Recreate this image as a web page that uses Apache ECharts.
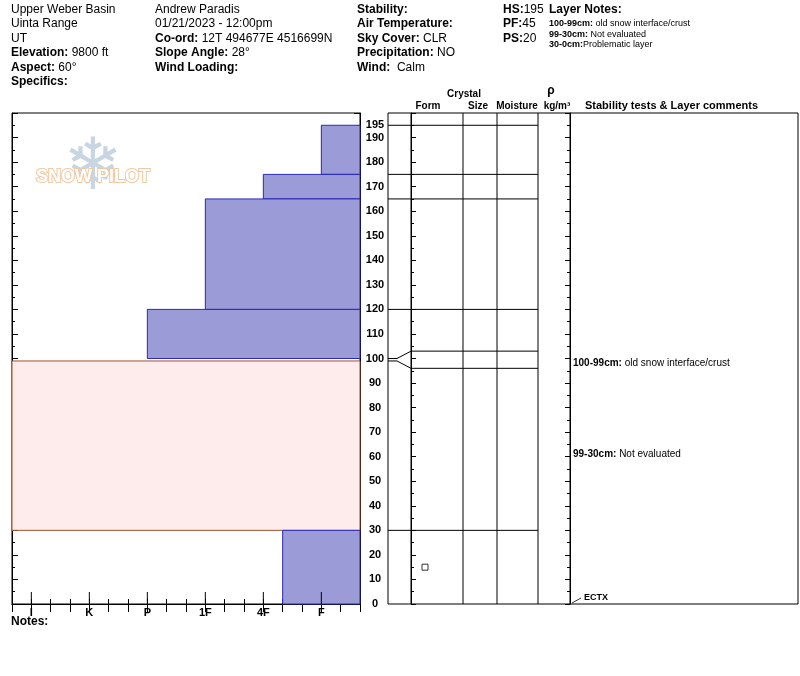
<!DOCTYPE html>
<html>
<head>
<meta charset="utf-8">
<script src="https://cdn.jsdelivr.net/npm/echarts@6/dist/echarts.min.js"></script>
<style>html,body{margin:0;padding:0;background:#fff}#chart{width:800px;height:676px}</style>
</head>
<body>
<div id="chart"></div>
<script>
// hardness scale: 1/3 steps, I=3 ... F=18
var hardnessLabels = {3: 'I', 6: 'K', 9: 'P', 12: '1F', 15: '4F', 18: 'F'};
// layers: [bottom, top, hardness]
var hardLayers = [[175, 195, 18], [165, 175, 15], [120, 165, 12], [100, 120, 9], [0, 30, 16]];
var noHardness = [30, 99];
var boundaries = [195, 175, 165, 120, 30];
var fanLayer = [99, 100];
var grainSymbols = [[425, 15]];
var comments = [
    {y: 98, head: '100-99cm:', text: ' old snow interface/crust'},
    {y: 61, head: '99-30cm:', text: ' Not evaluated'}
];
var tableCols = [411, 463, 497, 538, 570];
var FONT = 'Liberation Sans, Arial, sans-serif';

var chart = echarts.init(document.getElementById('chart'));

function txt(x, y, t, opt) {
    return Object.assign({type: 'text', x: x, y: y, style: Object.assign({
        text: t, font: '12px ' + FONT, fill: '#000', textVerticalAlign: 'middle'
    }, opt || {})});
}
function rich(x, y, head, val, size) {
    size = size || 12;
    return {type: 'text', x: x, y: y, style: {
        text: '{b|' + head + '}{n|' + val + '}', textVerticalAlign: 'middle',
        rich: {b: {fontWeight: 'bold', fontSize: size, fontFamily: FONT}, n: {fontSize: size, fontFamily: FONT}}
    }};
}

var header = [
    txt(11, 10, 'Upper Weber Basin'), txt(11, 24, 'Uinta Range'), txt(11, 39, 'UT'),
    rich(11, 53, 'Elevation:', ' 9800 ft'), rich(11, 68, 'Aspect:', ' 60°'), rich(11, 82, 'Specifics:', ''),
    txt(155, 10, 'Andrew Paradis'), txt(155, 24, '01/21/2023 - 12:00pm'),
    rich(155, 39, 'Co-ord:', ' 12T 494677E 4516699N'), rich(155, 53, 'Slope Angle:', ' 28°'),
    rich(155, 68, 'Wind Loading:', ''),
    rich(357, 10, 'Stability:', ''), rich(357, 24, 'Air Temperature:', ''), rich(357, 39, 'Sky Cover:', ' CLR'),
    rich(357, 53, 'Precipitation:', ' NO'), rich(357, 68, 'Wind:', '  Calm'),
    rich(503, 10, 'HS:', '195'), rich(503, 24, 'PF:', '45'), rich(503, 39, 'PS:', '20'),
    rich(549, 10, 'Layer Notes:', ''),
    rich(549, 24, '100-99cm:', ' old snow interface/crust', 9),
    rich(549, 35, '99-30cm:', ' Not evaluated', 9),
    rich(549, 45, '30-0cm:', 'Problematic layer', 9),
    txt(464, 94, 'Crystal', {font: 'bold 10px ' + FONT, textAlign: 'center'}),
    txt(428, 106, 'Form', {font: 'bold 10px ' + FONT, textAlign: 'center'}),
    txt(478, 106, 'Size', {font: 'bold 10px ' + FONT, textAlign: 'center'}),
    txt(517, 106, 'Moisture', {font: 'bold 10px ' + FONT, textAlign: 'center'}),
    txt(551, 91, 'ρ', {font: 'bold 12px ' + FONT, textAlign: 'center'}),
    txt(557, 106, 'kg/m³', {font: 'bold 10px ' + FONT, textAlign: 'center'}),
    txt(585, 106, 'Stability tests & Layer comments', {font: 'bold 11px ' + FONT}),
    txt(11, 622, 'Notes:', {font: 'bold 12px ' + FONT}),
    txt(28, 441, 'No Hardness specified', {font: '13px ' + FONT}),
    txt(93, 170, '❄', {font: '72px DejaVu Sans', fill: '#c8d6e4', textAlign: 'center'}),
    txt(93, 177, 'SNOW PILOT', {font: 'bold 18px ' + FONT, fill: '#fff', stroke: '#f2c8a0', lineWidth: 2, textAlign: 'center'}),
    {type: 'line', shape: {x1: 572, y1: 603, x2: 581, y2: 598}, style: {stroke: '#000', lineWidth: 0.8}},
    txt(584, 598, 'ECTX', {font: 'bold 9px ' + FONT})
];

var option = {
    animation: false,
    graphic: header,
    grid: [
        {left: 12, top: 113, width: 348, bottom: 72, show: true, borderColor: '#000', borderWidth: 1},
        {left: 388, top: 113, right: 2, bottom: 72, show: true, borderColor: '#000', borderWidth: 1}
    ],
    xAxis: [
        {gridIndex: 0, type: 'value', min: 2, max: 20, interval: 1, splitLine: {show: false},
         axisLine: {lineStyle: {color: '#000'}}, axisTick: {inside: true, length: 5, lineStyle: {color: '#000'}},
         axisLabel: {color: '#000', fontWeight: 'bold', fontSize: 11, fontFamily: FONT, margin: 3,
            formatter: function (v) { return hardnessLabels[v] || ''; }}},
        {gridIndex: 0, type: 'value', position: 'top', min: 2, max: 20, interval: 1, splitLine: {show: false},
         axisLine: {lineStyle: {color: '#000'}}, axisTick: {inside: true, length: 8, lineStyle: {color: '#000'}},
         axisLabel: {show: false}},
        {gridIndex: 1, type: 'value', min: 388, max: 798, show: false}
    ],
    yAxis: [
        {gridIndex: 0, type: 'value', min: 0, max: 200, interval: 10, splitLine: {show: false},
         axisLine: {show: true, lineStyle: {color: '#000'}}, axisTick: {inside: true, length: 6, lineStyle: {color: '#000'}},
         minorTick: {show: true, splitNumber: 2, length: 3, lineStyle: {color: '#000'}}, axisLabel: {show: false}},
        {gridIndex: 0, type: 'value', position: 'right', min: 0, max: 200, interval: 10, splitLine: {show: false},
         axisLine: {show: true, lineStyle: {color: '#000'}}, axisTick: {inside: true, length: 6, lineStyle: {color: '#000'}},
         minorTick: {show: true, splitNumber: 2, length: 3, lineStyle: {color: '#000'}},
         axisLabel: {color: '#000', fontWeight: 'bold', fontSize: 11, fontFamily: FONT, align: 'center', margin: 15,
            formatter: function (v) { return v === 200 ? '' : v; }}},
        {gridIndex: 0, type: 'value', position: 'right', min: 0, max: 200, interval: 195, splitLine: {show: false},
         axisLine: {show: false}, axisTick: {show: false},
         axisLabel: {color: '#000', fontWeight: 'bold', fontSize: 11, fontFamily: FONT, align: 'center', margin: 15,
            formatter: function (v) { return v === 195 ? v : ''; }}},
        {gridIndex: 1, type: 'value', min: 0, max: 200, show: false},
        {gridIndex: 1, type: 'value', position: 'left', offset: -23, min: 0, max: 200, interval: 10, splitLine: {show: false},
         axisLine: {show: true, lineStyle: {color: '#000'}}, axisTick: {inside: true, length: 5, lineStyle: {color: '#000'}},
         minorTick: {show: true, splitNumber: 2, length: 3, lineStyle: {color: '#000'}}, axisLabel: {show: false}},
        {gridIndex: 1, type: 'value', position: 'right', offset: -228, min: 0, max: 200, interval: 10, splitLine: {show: false},
         axisLine: {show: true, lineStyle: {color: '#000'}}, axisTick: {inside: true, length: 5, lineStyle: {color: '#000'}},
         minorTick: {show: true, splitNumber: 2, length: 3, lineStyle: {color: '#000'}}, axisLabel: {show: false}}
    ],
    series: [
        {type: 'custom', xAxisIndex: 0, yAxisIndex: 0, data: [noHardness], z: 1,
         renderItem: function (params, api) {
            var p1 = api.coord([2, api.value(1)]), p2 = api.coord([20, api.value(0)]);
            return {type: 'rect', shape: {x: p1[0], y: p1[1], width: p2[0] - p1[0], height: p2[1] - p1[1]},
                style: {fill: '#fdeceb', stroke: '#a0522d', lineWidth: 1}};
         }},
        {type: 'custom', xAxisIndex: 0, yAxisIndex: 0, data: hardLayers, z: 2,
         renderItem: function (params, api) {
            var p1 = api.coord([api.value(2), api.value(1)]), p2 = api.coord([20, api.value(0)]);
            return {type: 'rect', shape: {x: p1[0], y: p1[1], width: p2[0] - p1[0], height: p2[1] - p1[1]},
                style: {fill: '#9b9bd8', stroke: '#2a2ab8', lineWidth: 1}};
         }},
        {type: 'custom', xAxisIndex: 0, yAxisIndex: 0, data: Object.keys(hardnessLabels).map(Number), z: 3,
         renderItem: function (params, api) {
            var p = api.coord([api.value(0), 0]);
            return {type: 'line', shape: {x1: p[0], y1: p[1], x2: p[0], y2: p[1] - 12}, style: {stroke: '#000', lineWidth: 1}};
         }},
        // table columns
        {type: 'custom', xAxisIndex: 2, yAxisIndex: 3, data: tableCols, z: 3,
         renderItem: function (params, api) {
            var a = api.coord([api.value(0), 0]), b = api.coord([api.value(0), 200]);
            return {type: 'line', shape: {x1: a[0], y1: a[1], x2: b[0], y2: b[1]}, style: {stroke: '#000', lineWidth: 1}};
         }},
        // layer boundaries
        {type: 'custom', xAxisIndex: 2, yAxisIndex: 3, data: boundaries, z: 3,
         renderItem: function (params, api) {
            var a = api.coord([388, api.value(0)]), b = api.coord([538, api.value(0)]);
            return {type: 'line', shape: {x1: a[0], y1: a[1], x2: b[0], y2: b[1]}, style: {stroke: '#000', lineWidth: 1}};
         }},
        // fanned thin layer
        {type: 'custom', xAxisIndex: 2, yAxisIndex: 3, data: [fanLayer], z: 3,
         renderItem: function (params, api) {
            var lo = api.value(0), hi = api.value(1);
            var mid = (lo + hi) / 2, spread = 3.5;
            var pts = function (v, w) {
                return [api.coord([388, v]), api.coord([397, v]), api.coord([411, mid + w]), api.coord([538, mid + w])];
            };
            return {type: 'group', children: [
                {type: 'polyline', shape: {points: pts(hi, spread)}, style: {stroke: '#000', fill: null, lineWidth: 1}},
                {type: 'polyline', shape: {points: pts(lo, -spread)}, style: {stroke: '#000', fill: null, lineWidth: 1}}
            ]};
         }},
        {type: 'scatter', xAxisIndex: 2, yAxisIndex: 3, data: grainSymbols, symbol: 'rect', symbolSize: 6,
         itemStyle: {color: '#fff', borderColor: '#000', borderWidth: 1}, z: 4},
        {type: 'custom', xAxisIndex: 2, yAxisIndex: 3, data: comments.map(function (c) { return [573, c.y]; }), z: 4,
         renderItem: function (params, api) {
            var p = api.coord([api.value(0), api.value(1)]), c = comments[params.dataIndex];
            return {type: 'text', x: p[0], y: p[1], style: {
                text: '{b|' + c.head + '}{n|' + c.text + '}', textVerticalAlign: 'middle',
                rich: {b: {fontWeight: 'bold', fontSize: 10, fontFamily: FONT}, n: {fontSize: 10, fontFamily: FONT}}}};
         }}
    ]
};
chart.setOption(option);
</script>
</body>
</html>
